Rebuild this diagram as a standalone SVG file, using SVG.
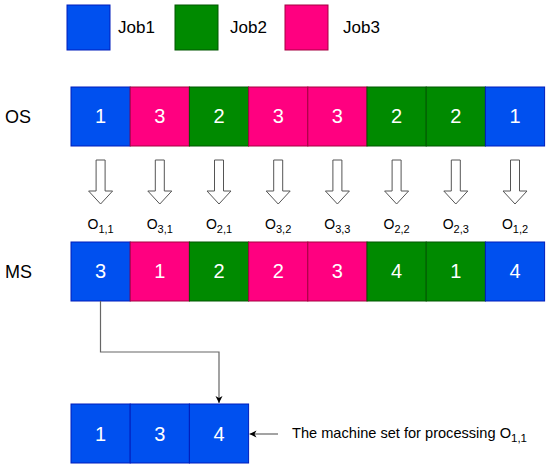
<svg xmlns="http://www.w3.org/2000/svg" width="550" height="469" viewBox="0 0 550 469">
<style>
text{font-family:"Liberation Sans",Arial,sans-serif}
.b{fill:#0050EF;stroke:#001DBC}
.g{fill:#008A00;stroke:#005700}
.p{fill:#FF0080;stroke:#A50040}
.n{fill:#fff;font-size:20px;text-anchor:middle}
.lg{font-size:17px;fill:#000}
.rl{font-size:18px;fill:#000}
.op{font-size:14px;fill:#000;text-anchor:middle}
.ar{fill:#fff;stroke:#555;stroke-width:1}
.ln{fill:none;stroke:#666;stroke-width:1.2}
</style>
<defs>
<marker id="ah" markerWidth="8" markerHeight="8" refX="7" refY="4" orient="auto" markerUnits="userSpaceOnUse">
<path d="M0,0.5 L7,4 L0,7.5 L2,4 Z" fill="#000"/>
</marker>
<path id="barrow" d="M-4.5,0 H4.5 V31 H12 L0,44 L-12,31 H-4.5 Z"/>
</defs>
<g id="legend">
<rect class="b" x="67" y="5" width="43" height="45"/>
<text class="lg" x="118" y="33">Job1</text>
<rect class="g" x="175" y="5" width="43" height="45"/>
<text class="lg" x="230" y="33">Job2</text>
<rect class="p" x="285" y="5" width="43" height="45"/>
<text class="lg" x="343" y="33">Job3</text>
</g>
<g id="os">
<text class="rl" x="5" y="123">OS</text>
<rect class="b" x="71" y="87" width="59.2" height="59"/>
<rect class="p" x="130.2" y="87" width="59.2" height="59"/>
<rect class="g" x="189.4" y="87" width="59.2" height="59"/>
<rect class="p" x="248.6" y="87" width="59.2" height="59"/>
<rect class="p" x="307.8" y="87" width="59.2" height="59"/>
<rect class="g" x="367" y="87" width="59.2" height="59"/>
<rect class="g" x="426.2" y="87" width="59.2" height="59"/>
<rect class="b" x="485.4" y="87" width="59.2" height="59"/>
<text class="n" x="100.6" y="123">1</text>
<text class="n" x="159.8" y="123">3</text>
<text class="n" x="219" y="123">2</text>
<text class="n" x="278.2" y="123">3</text>
<text class="n" x="337.4" y="123">3</text>
<text class="n" x="396.6" y="123">2</text>
<text class="n" x="455.8" y="123">2</text>
<text class="n" x="515" y="123">1</text>
</g>
<g id="arrows">
<use href="#barrow" class="ar" x="100.6" y="160"/>
<use href="#barrow" class="ar" x="159.8" y="160"/>
<use href="#barrow" class="ar" x="219" y="160"/>
<use href="#barrow" class="ar" x="278.2" y="160"/>
<use href="#barrow" class="ar" x="337.4" y="160"/>
<use href="#barrow" class="ar" x="396.6" y="160"/>
<use href="#barrow" class="ar" x="455.8" y="160"/>
<use href="#barrow" class="ar" x="515" y="160"/>
</g>
<g id="ops">
<text class="op" x="100.6" y="229">O<tspan font-size="11" dy="4">1,1</tspan></text>
<text class="op" x="159.8" y="229">O<tspan font-size="11" dy="4">3,1</tspan></text>
<text class="op" x="219" y="229">O<tspan font-size="11" dy="4">2,1</tspan></text>
<text class="op" x="278.2" y="229">O<tspan font-size="11" dy="4">3,2</tspan></text>
<text class="op" x="337.4" y="229">O<tspan font-size="11" dy="4">3,3</tspan></text>
<text class="op" x="396.6" y="229">O<tspan font-size="11" dy="4">2,2</tspan></text>
<text class="op" x="455.8" y="229">O<tspan font-size="11" dy="4">2,3</tspan></text>
<text class="op" x="515" y="229">O<tspan font-size="11" dy="4">1,2</tspan></text>
</g>
<g id="ms">
<text class="rl" x="5" y="278">MS</text>
<rect class="b" x="71" y="242" width="59.2" height="59"/>
<rect class="p" x="130.2" y="242" width="59.2" height="59"/>
<rect class="g" x="189.4" y="242" width="59.2" height="59"/>
<rect class="p" x="248.6" y="242" width="59.2" height="59"/>
<rect class="p" x="307.8" y="242" width="59.2" height="59"/>
<rect class="g" x="367" y="242" width="59.2" height="59"/>
<rect class="g" x="426.2" y="242" width="59.2" height="59"/>
<rect class="b" x="485.4" y="242" width="59.2" height="59"/>
<text class="n" x="100.6" y="278">3</text>
<text class="n" x="159.8" y="278">1</text>
<text class="n" x="219" y="278">2</text>
<text class="n" x="278.2" y="278">2</text>
<text class="n" x="337.4" y="278">3</text>
<text class="n" x="396.6" y="278">4</text>
<text class="n" x="455.8" y="278">1</text>
<text class="n" x="515" y="278">4</text>
</g>
<g id="machineset">
<rect class="b" x="71" y="404" width="59.2" height="59"/>
<rect class="b" x="130.2" y="404" width="59.2" height="59"/>
<rect class="b" x="189.4" y="404" width="59.2" height="59"/>
<text class="n" x="100.6" y="441">1</text>
<text class="n" x="159.8" y="441">3</text>
<text class="n" x="219" y="441">4</text>
</g>
<g id="note">
<text x="292" y="438" font-size="14.6" fill="#000">The machine set for processing O<tspan font-size="11.5" dy="4">1,1</tspan></text>
</g>
<g id="connectors">
<path class="ln" d="M100.5,301 V352 H219 V403" marker-end="url(#ah)"/>
<path class="ln" d="M278,434 H249.5" marker-end="url(#ah)"/>
</g>
</svg>
